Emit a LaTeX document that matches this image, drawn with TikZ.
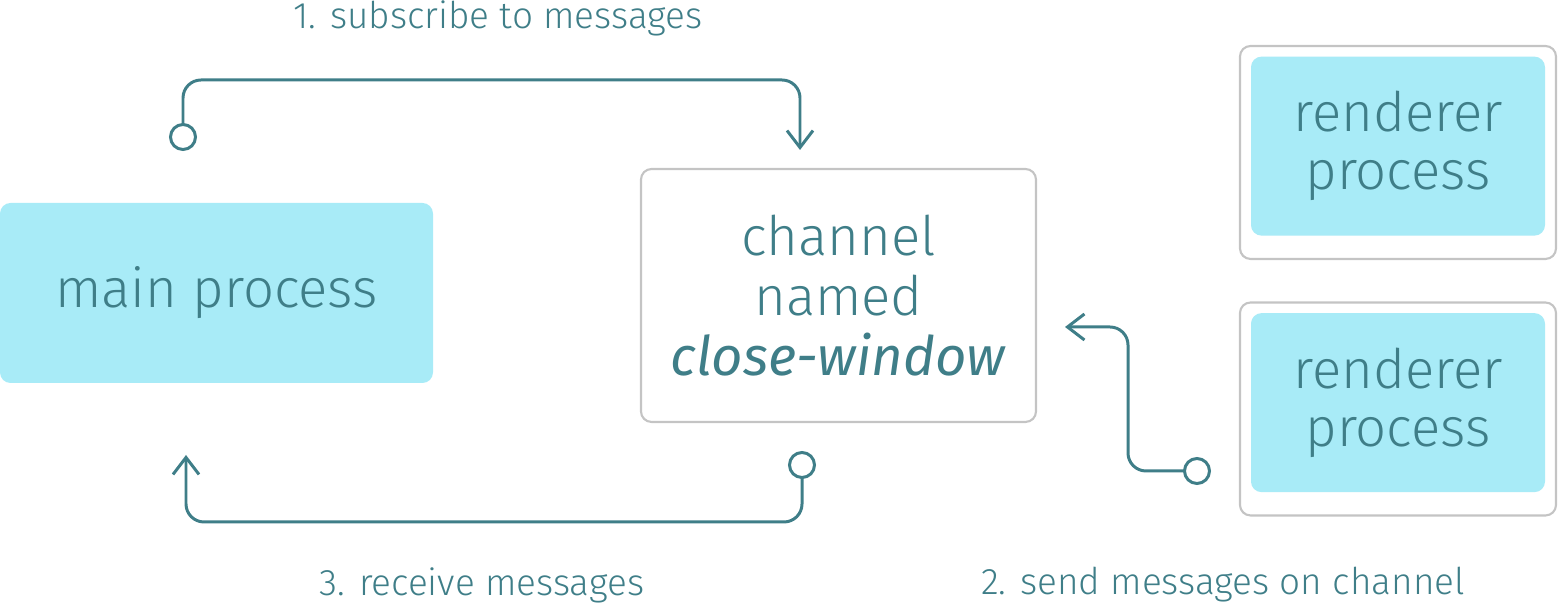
\documentclass[tikz,border=0pt]{standalone}
\usepackage{fontspec}
\setmainfont{Fira Sans Light}[ItalicFont={Fira Sans Italic}]
\usetikzlibrary{positioning,arrows.meta,calc}
\definecolor{lineColor}{HTML}{3F7E88}
\definecolor{procColor}{HTML}{A8EBF7}
\definecolor{frameColor}{HTML}{C4C4C4}
\tikzset{
    procnode/.style={
        rectangle,
        fill=procColor,
        rounded corners=3pt,
        inner sep=0pt,
        text=lineColor,
        align=center,
        font=\fontsize{15.5}{16.5}\selectfont
    },
    framenode/.style={
        rectangle,
        draw=frameColor,
        line width=0.6pt,
        rounded corners=3pt,
        fill=white,
        inner sep=0pt,
        minimum width=3.16cm,
        minimum height=2.13cm
    },
    endcircle/.style={
        circle,
        draw=lineColor,
        line width=0.85pt,
        fill=white,
        inner sep=0pt,
        minimum size=0.25cm
    },
    msg/.style={
        -{Straight Barb[length=1.7mm, width=2.6mm]},
        draw=lineColor,
        line width=0.85pt,
        rounded corners=0.18cm
    },
    msglabel/.style={
        text=lineColor,
        font=\fontsize{10.5}{12}\selectfont
    }
}

\begin{document}
\begin{tikzpicture}
    \useasboundingbox (0,0) rectangle (15.58,6.10);

    % process boxes
    \node[procnode, minimum width=4.33cm, minimum height=1.80cm] (main) at (2.165,3.17) {main process};
    \node[framenode, minimum width=3.95cm, minimum height=2.53cm, align=center, text=lineColor,
          font=\fontsize{15.5}{17}\selectfont] (chan) at (8.385,3.145) {channel\\named\\\textit{close-window}};

    \node[framenode] (rTopFrame) at (13.98,4.575) {};
    \node[procnode, minimum width=2.94cm, minimum height=1.79cm, below=0.11cm of rTopFrame.north] (rTop) {renderer\\process};
    \node[framenode] (rBotFrame) at (13.98,2.01) {};
    \node[procnode, minimum width=2.94cm, minimum height=1.79cm, below=0.11cm of rBotFrame.north] (rBot) {renderer\\process};

    % connectors
    \coordinate (subBend) at (8.00,5.30);
    \coordinate (subTip) at (8.00,4.60);
    \coordinate (recBend) at (1.86,0.88);
    \coordinate (recTip) at (1.86,1.55);
    \coordinate (sendBend) at (11.28,2.83);
    \coordinate (sendTip) at (10.65,2.83);

    \draw[msg] (1.83,4.86) |- (subBend) -- (subTip);
    \draw[msg] (8.02,1.32) |- (recBend) -- (recTip);
    \draw[msg] (11.85,1.39) -| (sendBend) -- (sendTip);

    \node[endcircle] (subC) at (1.83,4.73) {};
    \node[endcircle] (recC) at (8.02,1.45) {};
    \node[endcircle] (sendC) at (11.97,1.39) {};

    % labels
    \node[msglabel] (subLabel) at (4.98,5.92) {1. subscribe to messages};
    \node[msglabel] (recLabel) at (4.82,0.25) {3. receive messages};
    \node[msglabel] (sendLabel) at (12.23,0.25) {2. send messages on channel};
\end{tikzpicture}
\end{document}
